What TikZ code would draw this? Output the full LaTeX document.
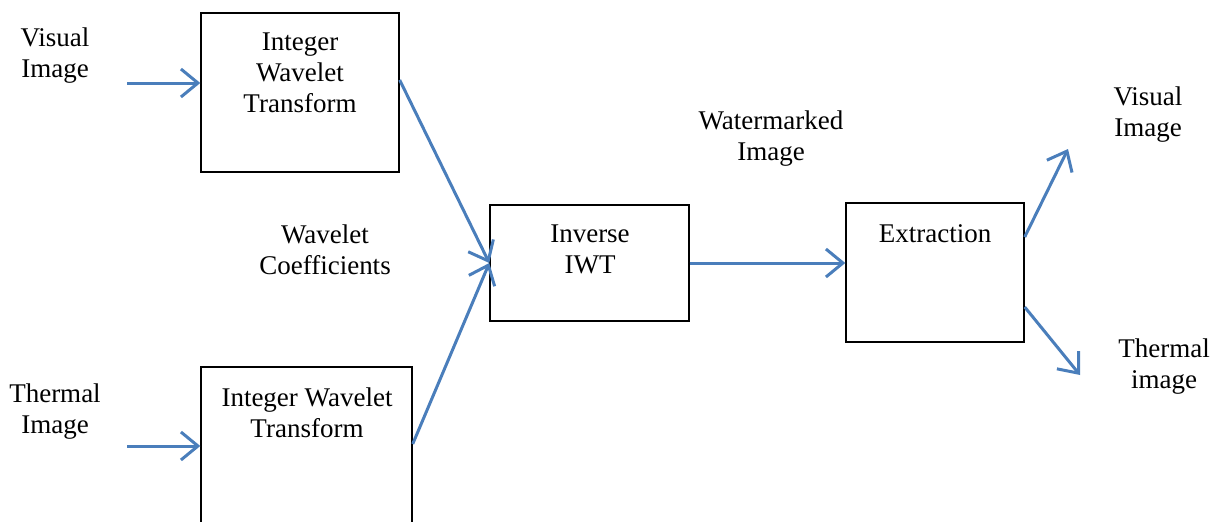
\documentclass[tikz,border=0pt]{standalone}
\usepackage{fontspec}
\setmainfont{Liberation Serif}
\usetikzlibrary{arrows.meta,calc}
\definecolor{arrowblue}{HTML}{4A7EBB}
\tikzset{
  box/.style={draw=black, line width=1.4pt, inner sep=0pt, fill=none},
  lbl/.style={align=center, inner sep=0pt, font=\fontsize{27}{31}\selectfont},
  conn/.style={draw=arrowblue, line width=3pt, -{Straight Barb[length=17pt,width=28pt,line width=3pt]}},
}
\begin{document}
\begin{tikzpicture}[x=1pt,y=-1pt]
\useasboundingbox (0,0) rectangle (1213,522);
\clip (0,0) rectangle (1213,522);
% boxes
\node[box, minimum width=198pt, minimum height=159pt] (iwt1) at (300,92.5) {};
\node[box, minimum width=211pt, minimum height=200pt] (iwt2) at (306.5,467) {};
\node[box, minimum width=199pt, minimum height=116pt] (inv) at (589.5,263) {};
\node[box, minimum width=178pt, minimum height=139pt] (ext) at (935,272.5) {};
% labels
\node[lbl] (visin) at (55,55.5) {Visual\\Image};
\node[lbl] (thermin) at (55,412) {Thermal\\Image};
\node[lbl] (t1) at (300,73) {Integer\\Wavelet\\Transform};
\node[lbl] (t2) at (307,412.5) {Integer Wavelet\\Transform};
\node[lbl] (coef) at (325,249.5) {Wavelet\\Coefficients};
\node[lbl] (t3) at (590,249.5) {Inverse\\IWT};
\node[lbl] (wm) at (771,139) {Watermarked\\Image};
\node[lbl] (t4) at (935,234) {Extraction};
\node[lbl] (visout) at (1148,114.5) {Visual\\Image};
\node[lbl] (thermout) at (1164,367) {Thermal\\image};
% connector end points
\coordinate (vs) at (127,83);
\coordinate (ts) at (127,446);
\coordinate (a1) at (iwt1.east |- {(0,80)});
\coordinate (a2) at (iwt2.east |- {(0,444)});
\coordinate (e1) at (ext.east |- {(0,237)});
\coordinate (e2) at (ext.east |- {(0,307)});
\coordinate (ov) at (1068,149);
\coordinate (ot) at (1080,375);
% connectors
\draw[conn] (vs) -- (iwt1.west |- vs);
\draw[conn] (ts) -- (iwt2.west |- ts);
\draw[conn] (a1) -- (inv.west);
\draw[conn] (a2) -- (inv.west);
\draw[conn] (inv.east) -- (inv.east -| ext.west);
\draw[conn] (e1) -- (ov);
\draw[conn] (e2) -- (ot);
\end{tikzpicture}
\end{document}
